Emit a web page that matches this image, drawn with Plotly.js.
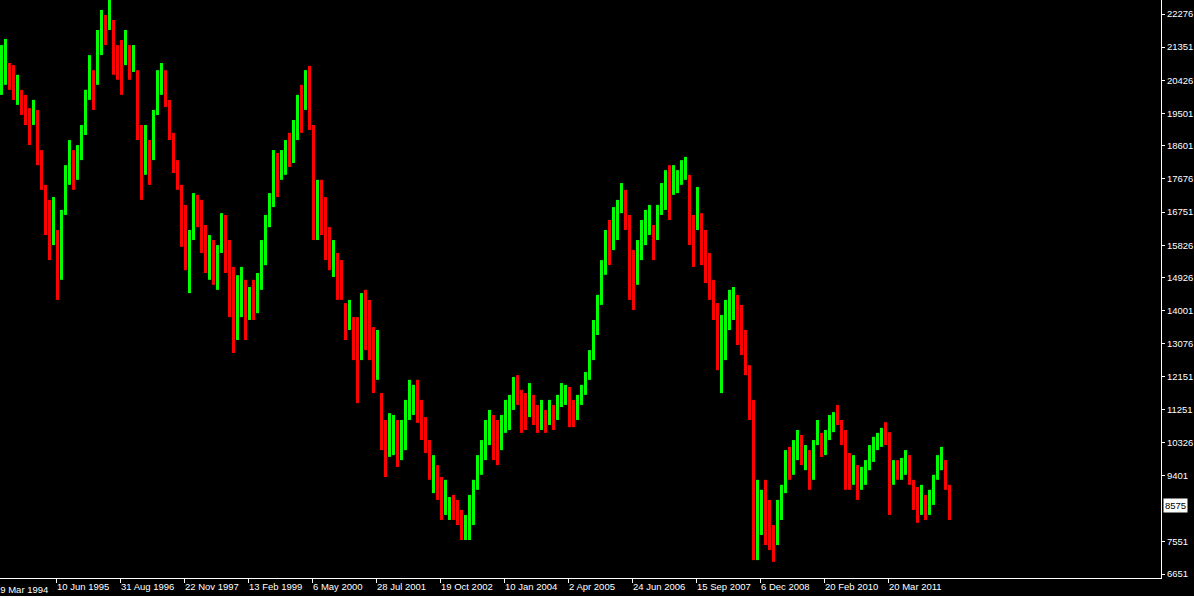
<!DOCTYPE html>
<html>
<head>
<meta charset="utf-8">
<script src="https://cdn.plot.ly/plotly-3.0.1.min.js"></script>
<style>
  html, body { margin: 0; padding: 0; background: #000; }
  #chart { width: 1194px; height: 598px; }
</style>
</head>
<body>
<div id="chart"></div>
<script>
const high = [
21410,21580,20910,20850,20580,20160,20020,19650,19880,19600,18480,17510,17090,17170,16250,16810,18060,18760,18480,18620,
19180,20160,21130,20710,21830,22390,22250,22667,22110,21410,21550,21830,21410,21410,20710,19180,19180,18760,19600,20710,
20910,20710,19880,18960,18200,17510,16950,16250,17280,17230,17090,16390,16110,15970,15830,16720,16670,15970,15220,14990,
15220,14860,14660,14860,15050,15970,16670,17280,18480,18400,18480,18760,18960,19320,20020,20300,20710,20830,19180,17650,
17650,17170,16330,15970,15610,15410,14210,14300,13820,13820,14490,14580,14300,13540,13460,11700,10950,11140,11090,10950,
10950,11510,12070,11930,12070,11510,11030,10390,9970,9690,9360,9280,8800,8860,8720,8440,8300,8860,9280,9970,
10390,10950,11230,11090,10950,11090,11510,11650,12150,12200,11790,11700,11980,11650,11370,11510,11230,11510,11370,11650,
11980,11930,11870,11510,11650,11930,12290,12900,13740,14440,15410,16250,16530,16890,17090,17560,17370,16670,15690,15970,
16530,16810,16950,16390,16950,17560,17920,18060,18060,17920,18200,18290,17790,16670,17450,16720,16250,15610,14860,14210,
13880,14300,14580,14660,14440,14160,13460,12480,11510,9280,9000,9280,8720,8020,8720,9140,10110,10200,10390,10670,
10530,10250,10110,10390,10950,10590,10670,11090,11170,11370,10950,10670,10030,9970,9690,9640,9830,10250,10480,10590,
10730,10890,10610,9830,9830,9890,10110,9970,9280,9080,9140,8860,9000,9420,9970,10200,9830,9140
];
const low = [
20020,20300,20160,19880,19740,19460,19180,18620,19180,18060,17370,16110,15410,15830,14300,14860,16670,17510,17370,17650,
18200,18900,19880,19600,20300,21130,21410,21830,20580,20440,20020,20850,20440,20660,18760,17090,17790,17510,18200,19460,
20020,19680,18760,17840,17370,15780,15130,14490,15970,16330,15610,15050,14860,14720,14580,15610,15050,13820,12820,13180,
13820,13180,13740,13740,13930,14580,15270,16330,16890,17170,17650,17790,18010,18120,18760,18960,19600,19040,15970,15970,
16110,15410,15130,14940,14300,14300,13180,13460,12620,11420,12620,12900,12620,11700,12070,10110,9360,9920,9970,9640,
9830,10110,10950,11090,10870,10390,10030,9280,8910,8720,8160,8300,8160,8160,8020,7600,7600,7600,8020,9000,
9420,9830,10250,9830,9690,10110,10590,10670,11230,11370,10590,10670,11030,10810,10590,10670,10590,10810,10670,10950,
11310,11370,10750,10750,10950,11370,11650,12070,12620,13320,14160,15000,15270,15690,15970,16720,16250,14300,14020,14720,
15410,15830,16110,15410,15970,16670,16810,16530,17230,17280,17510,17650,15830,15220,16250,15270,14770,14300,13740,12340,
11700,12620,13460,13740,13040,12760,12200,10950,7040,7040,7740,7460,7320,6990,7460,8160,8910,9280,9420,9830,
9690,9550,9000,9280,10250,9920,9970,10390,10610,10810,10250,9000,9000,9140,8720,9000,9140,9550,9780,10110,
10200,10250,8300,9140,9280,9280,9420,9140,8440,8080,8300,8160,8300,8580,9280,9550,9000,8160
];
const open = [
20370,20620,20720,20610,19950,19980,19810,19390,19350,19210,18200,17160,16670,16170,15760,15350,17020,17820,18200,17890,
18450,19210,20190,20440,20680,21450,22040,22040,21730,21170,21170,21100,21170,20850,20220,18660,18130,18450,18550,19770,
20240,20450,19600,18680,17990,17070,16490,14930,16300,17000,16720,16050,15170,15660,14890,15890,16260,15430,14620,13630,
14170,14440,13970,14580,14210,14920,15620,16570,17290,18090,17850,18030,18720,18420,19080,19960,19880,20380,18380,16390,
17260,16730,16030,15200,15280,15130,13950,13670,13520,13220,13090,14160,13880,13080,12420,11300,10550,10220,10250,10620,
10110,10460,11230,11300,11770,11230,10780,10110,9180,9450,9060,8540,8320,8680,8540,8230,7780,7910,8330,9240,
9660,10110,10500,10780,10640,10360,10820,10920,11460,11990,11490,11440,11270,11440,11170,10880,11070,10980,11200,11120,
11480,11510,11590,11320,11120,11510,11810,12280,12900,13600,14470,15310,16210,15990,16250,16930,17090,16080,15270,15030,
15690,16080,16320,16140,16220,16890,17090,17680,17440,17440,17680,17810,17300,16310,16550,16360,15880,15280,14580,13750,
12240,13040,13740,13970,14090,13810,13150,12100,10390,7600,8050,8820,8370,7760,7780,8400,9210,9970,9660,10040,
10320,9730,9830,9560,10420,10420,10150,10560,10750,11230,10770,10250,9770,9350,9450,9160,9310,9730,9950,10230,
10330,10730,10040,9310,9690,9430,9590,9760,9070,8830,8510,8680,8470,8790,9450,9710,9620,8920
];
const close = [
21060,21260,20350,20120,20370,19630,19390,18880,19700,18450,17650,16460,15830,16840,14790,16320,17710,18450,17650,18380,
18940,19840,20820,19880,21450,22070,21620,22460,20960,20680,20400,21590,20680,21220,19250,17610,18830,17820,19250,20400,
20690,19940,19040,18120,17580,16210,15590,15810,16950,16560,15980,15390,15800,15030,15520,16440,15450,14360,13420,14540,
14870,13600,14430,14020,14770,15620,16320,17050,18080,17480,18270,18520,18240,19020,19700,19290,20440,19490,16770,17230,
16500,15850,15430,15710,14620,14580,13440,14090,12920,12020,14020,13320,13040,12160,13110,10510,9760,10840,10810,9970,
10670,11160,11790,11720,11170,10670,10280,9550,9710,8960,8460,9030,8640,8330,8190,7810,8130,8540,8960,9730,
10150,10670,10980,10140,10000,10840,11280,11400,11920,11580,10890,10930,11740,11020,10780,11300,10750,11330,10840,11470,
11810,11790,11030,10940,11470,11790,12130,12690,13460,14160,15100,15940,15590,16590,16810,17350,16530,14890,14440,15660,
16250,16560,16740,15660,16700,17340,17650,16910,17860,17760,18030,18130,16320,15580,17150,15640,15140,14630,14020,12810,
13330,13880,14300,14430,13390,13110,12520,11330,8160,8720,8680,7920,7670,7250,8400,8890,9810,9510,10150,10460,
9900,10080,9280,10110,10770,10080,10500,10910,11030,10950,10420,9420,9250,9760,8960,9480,9660,10080,10300,10470,
10590,10410,8880,9660,9420,9740,9940,9350,8650,8330,8930,8330,8820,9210,9800,10040,9210,8575
];
const WEEKS_PER_SAMPLE = 4;
const barIndex = high.map((_, i) => i * WEEKS_PER_SAMPLE + 1.5);

// Time axis labels (bar number -> date text)
const dateLabels = ["19 Mar 1994","10 Jun 1995","31 Aug 1996","22 Nov 1997","13 Feb 1999","6 May 2000","28 Jul 2001",
  "19 Oct 2002","10 Jan 2004","2 Apr 2005","24 Jun 2006","15 Sep 2007","6 Dec 2008","20 Feb 2010","20 Mar 2011"];
const dateLabelBars = [-8,56,120,184,248,312,376,440,504,568,632,696,760,824,888];

// Price scale labels
const priceTicks = [22276,21351,20426,19501,18601,17676,16751,15826,14926,14001,13076,12151,11251,10326,9401,7551,6651];
const currentPrice = 8575;
const priceMax = 22667, priceMin = 6541;
const barsVisible = 1161;

const labelFont = {family: "Liberation Sans, Arial, sans-serif", size: 9.5, color: "#ffffff"};

const trace = {
  type: "ohlc",
  x: barIndex, open: open, high: high, low: low, close: close,
  increasing: {line: {color: "#00ff00", width: 3}},
  decreasing: {line: {color: "#ff0000", width: 3}},
  tickwidth: 0,
  hoverinfo: "skip"
};

const inRange = dateLabelBars.map(b => b >= 0);
const annotations = [];
dateLabelBars.forEach((b, i) => {
  if (!inRange[i]) {
    // label whose bar lies left of the visible window: drawn partly cut off
    annotations.push({
      xref: "paper", yref: "paper", x: (b + 1) / barsVisible, y: 0, yshift: -4,
      xanchor: "left", yanchor: "top", showarrow: false,
      text: dateLabels[i], font: labelFont
    });
  }
});
annotations.push({
  xref: "paper", yref: "y", x: 1, y: currentPrice, xshift: 2,
  xanchor: "left", yanchor: "middle", showarrow: false,
  text: String(currentPrice),
  font: {family: labelFont.family, size: 9.5, color: "#000000"},
  bgcolor: "#ffffff", borderpad: 1
});

const layout = {
  width: 1194, height: 598,
  margin: {l: 0, r: 33, t: 0, b: 20, pad: 0},
  paper_bgcolor: "#000000", plot_bgcolor: "#000000",
  showlegend: false,
  font: labelFont,
  xaxis: {
    range: [0, barsVisible],
    rangeslider: {visible: false},
    showgrid: false, zeroline: false,
    showline: true, linecolor: "#ffffff", linewidth: 1,
    ticks: "outside", ticklen: 4, tickcolor: "#ffffff", tickwidth: 1,
    tickmode: "array",
    tickvals: dateLabelBars.filter((b, i) => inRange[i]),
    ticktext: dateLabels.filter((d, i) => inRange[i]),
    ticklabelposition: "outside right",
    tickfont: labelFont, fixedrange: true
  },
  yaxis: {
    side: "right",
    range: [priceMin, priceMax],
    showgrid: false, zeroline: false,
    showline: true, linecolor: "#ffffff", linewidth: 1,
    ticks: "outside", ticklen: 3, tickcolor: "#ffffff", tickwidth: 1,
    tickmode: "array", tickvals: priceTicks, ticktext: priceTicks.map(String),
    tickfont: labelFont, fixedrange: true
  },
  annotations: annotations,
  shapes: [{
    type: "rect", xref: "paper", yref: "paper", layer: "above",
    x0: 0, x1: 1194 / 1161, y0: -20 / 578, y1: -18 / 578,
    fillcolor: "#ffffff", line: {width: 0}
  }]
};

Plotly.newPlot("chart", [trace], layout, {staticPlot: true, displayModeBar: false});
</script>
</body>
</html>
